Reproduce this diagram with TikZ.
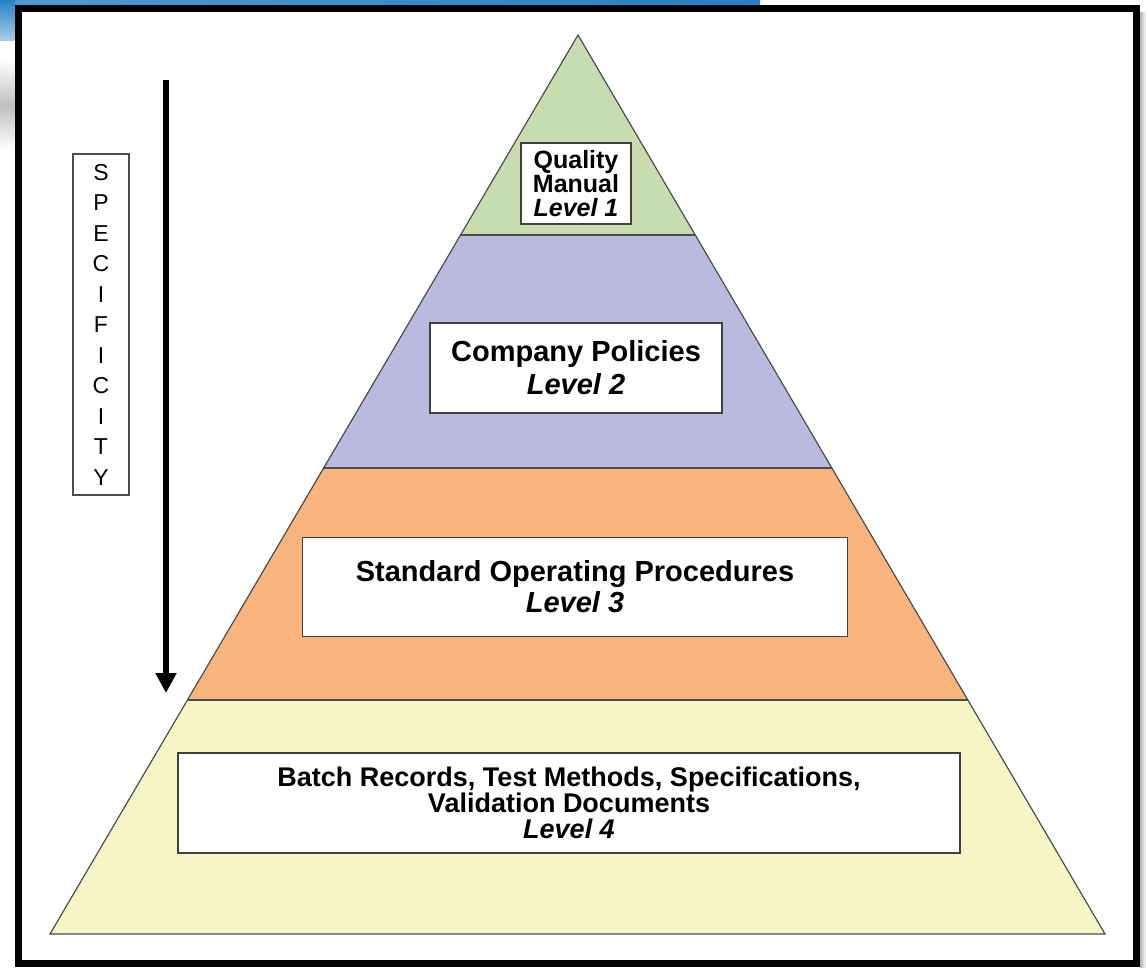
\documentclass[tikz,border=0pt]{standalone}
\usepackage{fontspec}
\setmainfont{Liberation Sans}
\usetikzlibrary{positioning,arrows.meta}
\definecolor{lvlone}{RGB}{199,221,175}
\definecolor{lvltwo}{RGB}{186,186,222}
\definecolor{lvlthree}{RGB}{250,180,126}
\definecolor{lvlfour}{RGB}{247,244,198}
\definecolor{slideblue}{RGB}{38,128,196}
\tikzset{
thick,
>={Triangle[width=20pt,length=20pt]},
}

\begin{document}
\begin{tikzpicture}
    [x=1pt, y=-1pt,
    layer/.style={draw=black!70, line width=1.2pt},
    block/.style={draw=black!75, fill=white, line width=1.8pt, align=center, inner sep=0pt,
        font=\fontsize{29}{33}\selectfont\bfseries},
    sidebox/.style={draw=black!70, fill=white, line width=1.2pt, align=center, inner sep=0pt,
        font=\fontsize{23}{30.5}\selectfont}
    ]
    \useasboundingbox (0,0) rectangle (1146,967);
    \fill[white] (0,0) rectangle (1146,967);

    \shade[left color=slideblue!80, right color=slideblue] (0,0) rectangle (760,5);
    \shade[top color=slideblue, bottom color=slideblue!40] (0,0) rectangle (15,40);
    \shade[top color=white, bottom color=white, middle color=black!25] (0,60) rectangle (15,150);
    \shade[left color=black!30, right color=white] (1140,12) rectangle (1146,967);

    \draw[line width=7pt] (18.5,8) rectangle (1136.5,963.5);

    \coordinate (apex) at (578,35);
    \coordinate (a1) at (461,235);  \coordinate (b1) at (695,235);
    \coordinate (a2) at (323,468);  \coordinate (b2) at (832,468);
    \coordinate (a3) at (188,700);  \coordinate (b3) at (968,700);
    \coordinate (a4) at (50,934);   \coordinate (b4) at (1105,934);

    \fill[lvlone] (apex) -- (b1) -- (a1) -- cycle;
    \fill[lvltwo] (a1) -- (b1) -- (b2) -- (a2) -- cycle;
    \fill[lvlthree] (a2) -- (b2) -- (b3) -- (a3) -- cycle;
    \fill[lvlfour] (a3) -- (b3) -- (b4) -- (a4) -- cycle;
    \draw[layer] (apex) -- (b4) -- (a4) -- cycle;
    \draw[layer] (a1) -- (b1);
    \draw[layer] (a2) -- (b2);
    \draw[layer] (a3) -- (b3);

    \node [block, minimum width=110pt, minimum height=81pt,
        font=\fontsize{25}{24}\selectfont\bfseries] (q1) at (576,183.5)
    {
        Quality\\ Manual\\ \textit{Level 1}
    };

    \node [block, minimum width=292pt, minimum height=90pt] (q2) at (576,368)
    {
        Company Policies\\ \textit{Level 2}
    };

    \node [block, minimum width=545pt, minimum height=99pt,
        font=\fontsize{29}{31}\selectfont\bfseries] (q3) at (575,587)
    {
        Standard Operating Procedures\\ \textit{Level 3}
    };

    \node [block, minimum width=782pt, minimum height=100pt,
        font=\fontsize{27}{26}\selectfont\bfseries] (q4) at (569,803)
    {
        Batch Records, Test Methods, Specifications,\\ Validation Documents\\ \textit{Level 4}
    };

    \node [sidebox, minimum width=56pt, minimum height=341pt] (spec) at (101,324.5)
    {
        S\\ P\\ E\\ C\\ I\\ F\\ I\\ C\\ I\\ T\\ Y
    };

    \coordinate (start) at (166,80);
    \coordinate (stop) at (166,693);
    \draw[->, line width=6pt] (start) -- (stop);

\end{tikzpicture}
\end{document}
